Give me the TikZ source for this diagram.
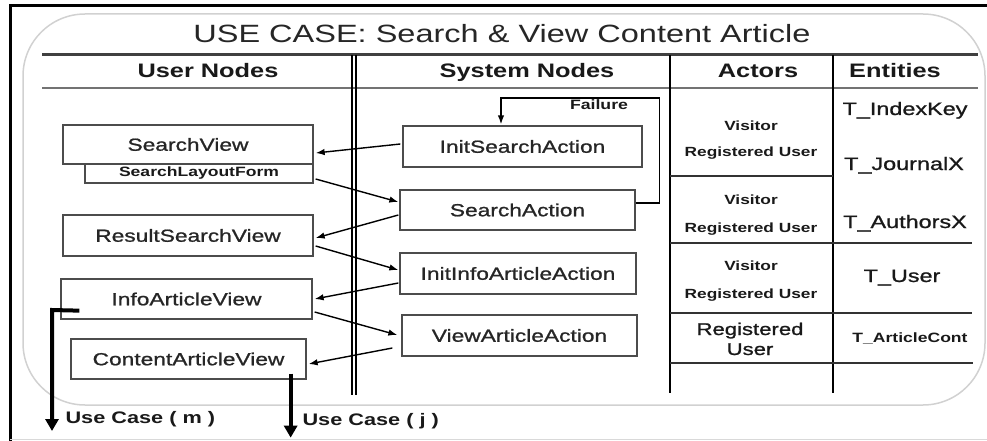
\documentclass[tikz,border=0pt]{standalone}
\usepackage{fontspec}
\setmainfont{Liberation Sans}[FakeStretch=1.3]
\newfontfamily\labelfont{Liberation Sans}[FakeStretch=1.3, FakeBold=1.1]
\usetikzlibrary{arrows.meta,calc}

\begin{document}
\begin{tikzpicture}[x=1pt,y=-1pt,
  box/.style={draw=black!70, line width=1.3pt, inner sep=0pt, text=black!85,
              font=\labelfont\fontsize{17.5}{20}\selectfont},
  smallbox/.style={draw=black!70, line width=1.3pt, inner sep=0pt, text=black!90,
              font=\fontsize{13.5}{16}\bfseries\selectfont},
  arr/.style={draw=black, line width=1.4pt, -{Latex[length=9pt,width=6.5pt]}},
  bigarr/.style={draw=black, line width=4pt, -{Triangle[length=12pt,width=13pt]}},
  head/.style={anchor=base, font=\fontsize{19.5}{22}\bfseries\selectfont, text=black!90},
  actor/.style={anchor=base, font=\fontsize{13.3}{16}\bfseries\selectfont, text=black!90},
  entity/.style={anchor=base, font=\labelfont\fontsize{18}{20}\selectfont, text=black!90},
  exitlabel/.style={anchor=base west, font=\fontsize{16.7}{20}\bfseries\selectfont, text=black!90},
  rule/.style={draw=black!80, line width=1.2pt},
  lane/.style={draw=black, line width=1.5pt}
]
\useasboundingbox (0,0) rectangle (987,441);

% outer frame
\draw[black, line width=3pt] (10,441) -- (10,6) -- (987,6);
\draw[black!15, line width=1pt] (10,439) -- (987,439);

% rounded panel
\draw[black!18, line width=1.5pt, rounded corners=62pt] (23,14) rectangle (985,405);

% title
\node[anchor=base, font=\fontsize{25}{30}\selectfont, text=black!85] (title)
  at (502,43) {USE CASE: Search \& View Content Article};

% header rules
\draw[black!75, line width=3pt] (42,55) -- (978,55);
\draw[black!55, line width=3pt] (42,89) -- (978,89);
\draw[white, line width=0.8pt] (42,89) -- (978,89);

% swimlane separators
\draw[lane] (352,55) -- (352,395);
\draw[lane] (356,55) -- (356,395);
\draw[lane] (670,55) -- (670,393);
\draw[lane] (833,55) -- (833,393);

% actor / entity row rules
\draw[rule] (670,176) -- (833,176);
\draw[rule] (670,243) -- (972,243);
\draw[rule] (670,313) -- (972,313);
\draw[rule] (670,363) -- (973,363);

% column headers
\node[head] (hu) at (208,78) {User Nodes};
\node[head] (hs) at (527,78) {System Nodes};
\node[head] (ha) at (758,78) {Actors};
\node[head] (he) at (895,78) {Entities};

% user nodes
\node[box, minimum width=250, minimum height=39] (sv)  at (188,144.5) {SearchView};
\node[smallbox, minimum width=228, minimum height=19] (slf) at (199,173.5) {SearchLayoutForm};
\node[box, minimum width=250, minimum height=41] (rsv) at (188,235.5) {ResultSearchView};
\node[box, minimum width=251, minimum height=40] (iav) at (186.5,299) {InfoArticleView};
\node[box, minimum width=235, minimum height=40] (cav) at (188.5,359) {ContentArticleView};

% system nodes
\node[box, minimum width=239, minimum height=41] (isa) at (522.5,146.5) {InitSearchAction};
\node[box, minimum width=235, minimum height=40] (sa)  at (517.5,210) {SearchAction};
\node[box, minimum width=236, minimum height=41] (iia) at (518,273.5) {InitInfoArticleAction};
\node[box, minimum width=235, minimum height=41] (vaa) at (519.5,335.5) {ViewArticleAction};

% flow between lanes
\draw[arr] ($(isa.west)+(-2,-2.5)$) -- ($(sv.east)+(2,8.5)$);
\draw[arr] ($(slf.east)+(2,5.5)$) -- ($(sa.west)+(-1,-8)$);
\draw[arr] ($(sa.west)+(-1,5)$) -- ($(rsv.east)+(2,2.5)$);
\draw[arr] ($(rsv.east)+(2,10.5)$) -- ($(iia.west)+(-1,-3.5)$);
\draw[arr] ($(iia.west)+(-1,9.5)$) -- ($(iav.east)+(2,0)$);
\draw[arr] ($(iav.east)+(2,13)$) -- ($(vaa.west)+(-4,-0.5)$);
\draw[arr] ($(vaa.west)+(-9,12.5)$) -- ($(cav.east)+(2,5)$);

% failure loop back to the initial action
\draw[arr] ($(sa.east)+(0,-7)$) -- ++(24,0) -- ++(0,-105) -| ($(isa.north)+(-21.5,-1)$);
\node[anchor=base, font=\fontsize{13.6}{16}\bfseries\selectfont, text=black!90] (fail)
  at (599,110) {Failure};

% exits to other use cases
\coordinate (mcorner) at (52,310);
\coordinate (mend) at (52,431);
\draw[bigarr] ($(iav.south west)+(19,-9)$) -- (mcorner) -- (mend);
\node[exitlabel] (ucm) at (62,423) {Use Case ( m )};

\coordinate (jend) at ($(cav.south east)+(-16,58)$);
\draw[bigarr] ($(cav.south east)+(-16,-6)$) -- (jend);
\node[exitlabel] (ucj) at (299,425) {Use Case ( j )};

% actors
\node[actor] (a1) at (751,130) {Visitor};
\node[actor] (a2) at (751,156) {Registered User};
\node[actor] (a3) at (751,204) {Visitor};
\node[actor] (a4) at (751,232) {Registered User};
\node[actor] (a5) at (751,270) {Visitor};
\node[actor] (a6) at (751,298) {Registered User};
\node[anchor=base, font=\labelfont\fontsize{17}{20}\selectfont, text=black!90] (a7) at (750,335) {Registered};
\node[anchor=base, font=\labelfont\fontsize{17}{20}\selectfont, text=black!90] (a8) at (750,355) {User};

% entities
\node[entity] (e1) at (905,115) {T\_IndexKey};
\node[entity] (e2) at (904,170) {T\_JournalX};
\node[entity] (e3) at (905,228) {T\_AuthorsX};
\node[entity] (e4) at (902,282) {T\_User};
\node[anchor=base, font=\fontsize{13.5}{16}\bfseries\selectfont, text=black!90] (e5)
  at (910,342) {T\_ArticleCont};
\end{tikzpicture}
\end{document}
